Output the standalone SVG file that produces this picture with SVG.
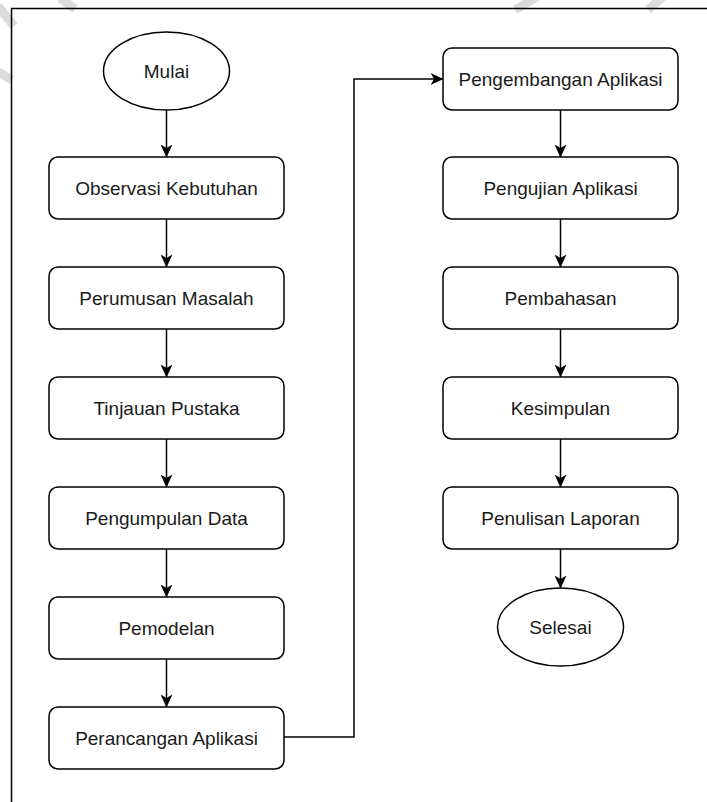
<svg xmlns="http://www.w3.org/2000/svg" width="707" height="802" viewBox="0 0 707 802">
<style>
.n{fill:#fff;stroke:#000;stroke-width:1.5}
.t{font-family:"Liberation Sans",Arial,sans-serif;font-size:19px;fill:#1a1a1a;text-anchor:middle}
.c{fill:none;stroke:#000;stroke-width:1.5}
.wm{fill:none;stroke:#dcdcdc;stroke-width:9}
.fr{fill:none;stroke:#000;stroke-width:1.5}
</style>
<defs>
<marker id="ah" viewBox="0 0 13 13" refX="12.5" refY="6.5" markerWidth="13" markerHeight="13" markerUnits="userSpaceOnUse" orient="auto">
<path d="M0,0.5 L13,6.5 L0,12.5 L3.5,6.5 Z" fill="#000"/>
</marker>
</defs>
<rect width="707" height="802" fill="#fff"/>
<g id="watermark">
<line class="wm" x1="-2" y1="6" x2="14" y2="26"/>
<line class="wm" x1="-2" y1="72" x2="12" y2="80"/>
<line class="wm" x1="60" y1="-2" x2="75" y2="9"/>
<line class="wm" x1="515" y1="10" x2="540" y2="-5"/>
<line class="wm" x1="648" y1="10" x2="665" y2="-5"/>
</g>
<g id="frame">
<polyline class="fr" points="11.5,802 11.5,8.5 707,8.5"/>
</g>
<g id="connectors">
<line class="c" x1="166.5" y1="110" x2="166.5" y2="157" marker-end="url(#ah)"/>
<line class="c" x1="166.5" y1="219" x2="166.5" y2="267" marker-end="url(#ah)"/>
<line class="c" x1="166.5" y1="329" x2="166.5" y2="377" marker-end="url(#ah)"/>
<line class="c" x1="166.5" y1="439" x2="166.5" y2="487" marker-end="url(#ah)"/>
<line class="c" x1="166.5" y1="549" x2="166.5" y2="597" marker-end="url(#ah)"/>
<line class="c" x1="166.5" y1="659" x2="166.5" y2="707" marker-end="url(#ah)"/>
<polyline class="c" points="284,737 354,737 354,79 443,79" marker-end="url(#ah)"/>
<line class="c" x1="560.5" y1="110" x2="560.5" y2="157" marker-end="url(#ah)"/>
<line class="c" x1="560.5" y1="219" x2="560.5" y2="267" marker-end="url(#ah)"/>
<line class="c" x1="560.5" y1="329" x2="560.5" y2="377" marker-end="url(#ah)"/>
<line class="c" x1="560.5" y1="439" x2="560.5" y2="487" marker-end="url(#ah)"/>
<line class="c" x1="560.5" y1="549" x2="560.5" y2="588" marker-end="url(#ah)"/>
</g>
<g id="mulai"><ellipse class="n" cx="166.5" cy="71" rx="63" ry="39"/><text class="t" x="166.5" y="77.5">Mulai</text></g>
<g id="observasi"><rect class="n" x="49" y="157" width="235" height="62" rx="9"/><text class="t" x="166.5" y="194.5">Observasi Kebutuhan</text></g>
<g id="perumusan"><rect class="n" x="49" y="267" width="235" height="62" rx="9"/><text class="t" x="166.5" y="304.5">Perumusan Masalah</text></g>
<g id="tinjauan"><rect class="n" x="49" y="377" width="235" height="62" rx="9"/><text class="t" x="166.5" y="414.5">Tinjauan Pustaka</text></g>
<g id="pengumpulan"><rect class="n" x="49" y="487" width="235" height="62" rx="9"/><text class="t" x="166.5" y="524.5">Pengumpulan Data</text></g>
<g id="pemodelan"><rect class="n" x="49" y="597" width="235" height="62" rx="9"/><text class="t" x="166.5" y="634.5">Pemodelan</text></g>
<g id="perancangan"><rect class="n" x="49" y="707" width="235" height="62" rx="9"/><text class="t" x="166.5" y="744.5">Perancangan Aplikasi</text></g>
<g id="pengembangan"><rect class="n" x="443" y="48" width="235" height="62" rx="9"/><text class="t" x="560.5" y="85.5">Pengembangan Aplikasi</text></g>
<g id="pengujian"><rect class="n" x="443" y="157" width="235" height="62" rx="9"/><text class="t" x="560.5" y="194.5">Pengujian Aplikasi</text></g>
<g id="pembahasan"><rect class="n" x="443" y="267" width="235" height="62" rx="9"/><text class="t" x="560.5" y="304.5">Pembahasan</text></g>
<g id="kesimpulan"><rect class="n" x="443" y="377" width="235" height="62" rx="9"/><text class="t" x="560.5" y="414.5">Kesimpulan</text></g>
<g id="penulisan"><rect class="n" x="443" y="487" width="235" height="62" rx="9"/><text class="t" x="560.5" y="524.5">Penulisan Laporan</text></g>
<g id="selesai"><ellipse class="n" cx="560.5" cy="627" rx="63" ry="39"/><text class="t" x="560.5" y="633.5">Selesai</text></g>
</svg>
